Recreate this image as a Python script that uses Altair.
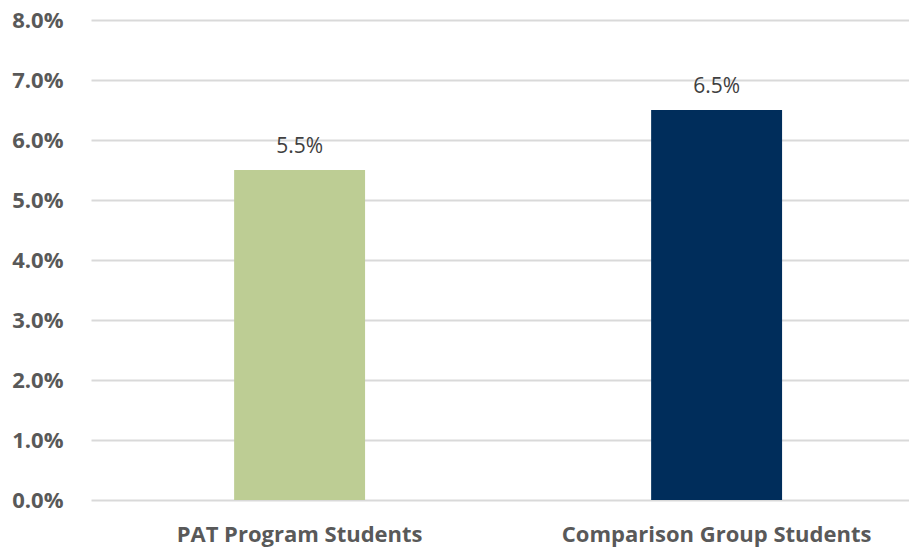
import altair as alt
import pandas as pd

categories = ["PAT Program Students", "Comparison Group Students"]
values = [0.055, 0.065]
colors = ["#BDCD94", "#002D5B"]

df = pd.DataFrame({"group": categories, "value": values, "color": colors})

FONT = "Open Sans"

x = alt.X("group:N", sort=categories, title=None,
          scale=alt.Scale(paddingInner=0.686, paddingOuter=0.3238, align=0.53),
          axis=alt.Axis(labelAngle=0, labelFont=FONT, labelFontSize=22, labelFontWeight="bold",
                        labelColor="#595959", ticks=False, domain=False, labelPadding=24,
                        labelLimit=500, grid=False))
y = alt.Y("value:Q", title=None,
          scale=alt.Scale(domain=[0, 0.08], nice=False),
          axis=alt.Axis(format=".1%", values=[0, 0.01, 0.02, 0.03, 0.04, 0.05, 0.06, 0.07, 0.08],
                        labelFont=FONT, labelFontSize=22, labelFontWeight="bold",
                        labelColor="#595959", ticks=False, domain=False, labelPadding=28,
                        gridColor="#D9D9D9", gridWidth=2))

bars = alt.Chart(df).mark_bar().encode(
    x=x, y=y, color=alt.Color("color:N", scale=None)
)
text = alt.Chart(df).mark_text(dy=-17, baseline="alphabetic", font=FONT, fontSize=21,
                               color="#404040").encode(
    x=alt.X("group:N", sort=categories), y="value:Q", text=alt.Text("value:Q", format=".1%")
)

chart = (bars + text).properties(
    width=818, height=480,
    autosize=alt.AutoSizeParams(type="none"),
    padding={"left": 83, "top": 12, "right": 0, "bottom": 48},
).configure_view(stroke=None)
chart.save("out.html", embed_options={"renderer": "svg", "actions": False})
